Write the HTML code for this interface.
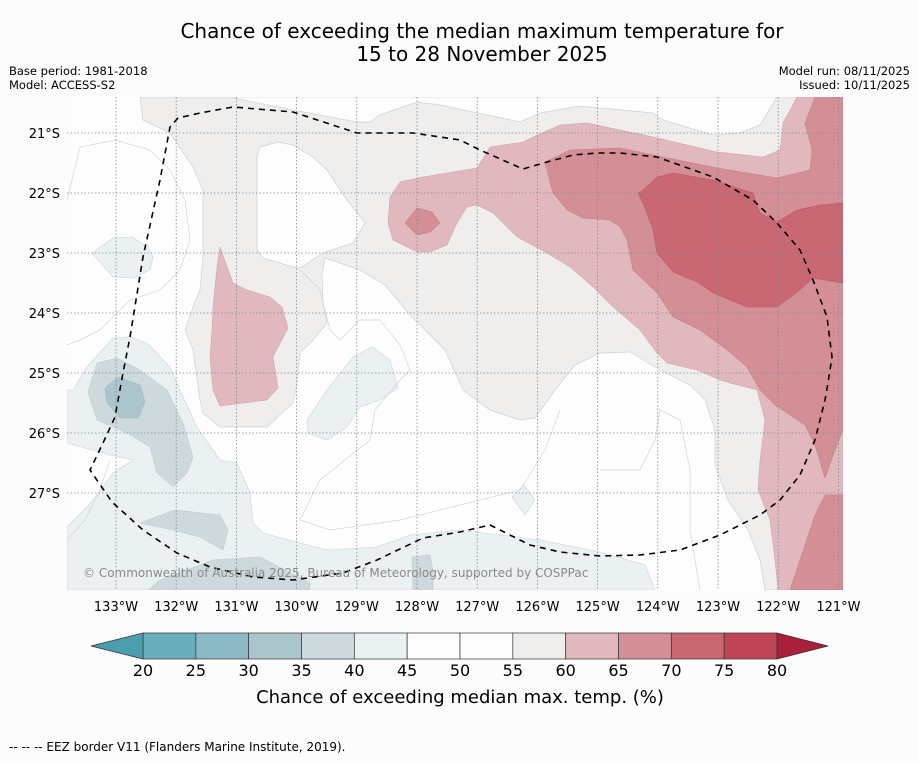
<!DOCTYPE html>
<html><head><meta charset="utf-8"><style>
html,body{margin:0;padding:0;background:#fcfcfc;}
body{width:919px;height:758px;overflow:hidden;font-family:"Liberation Sans","DejaVu Sans",sans-serif;}
svg text{font-family:"DejaVu Sans","Liberation Sans",sans-serif;}
</style></head><body>
<svg id="chart" width="919" height="758" viewBox="0 0 919 758">
<text x="482" y="38" text-anchor="middle" font-size="20" fill="#000">Chance of exceeding the median maximum temperature for</text>
<text x="482" y="61" text-anchor="middle" font-size="20" fill="#000">15 to 28 November 2025</text>
<text x="9" y="75" font-size="11.5">Base period: 1981-2018</text>
<text x="9" y="89" font-size="11.5">Model: ACCESS-S2</text>
<text x="910" y="75" font-size="11.5" text-anchor="end">Model run: 08/11/2025</text>
<text x="910" y="89" font-size="11.5" text-anchor="end">Issued: 10/11/2025</text>
<defs><clipPath id="mapclip"><rect x="67" y="97" width="776" height="493"/></clipPath></defs>
<g clip-path="url(#mapclip)">
<rect x="67" y="97" width="776" height="493" fill="#fdfdfd"/>
<path fill="#efeeec" stroke="#c9d3d6" stroke-width="0.7" d="M140,97 L843,97 L843,590 L765,590 L760,560 L748,530 L728,500 L715,465 L715,430 L705,400 L690,385 L660,370 L630,352 L600,353 L575,365 L555,390 L535,418 L520,420 L490,410 L463,390 L445,350 L410,315 L385,285 L360,270 L325,258 L322,275 L323,303 L327,323 L313,340 L300,353 L297,383 L293,403 L267,427 L220,427 L203,413 L200,400 L193,350 L185,330 L193,307 L200,290 L203,257 L203,190 L193,167 L170,133 L143,120 Z"/>
<path fill="#fdfdfd" stroke="#c9d3d6" stroke-width="0.7" d="M233,97 L233,98 L293,110 L357,122 L370,122 L380,115 L417,102 L440,105 L520,122 L540,113 L580,106 L653,113 L663,120 L713,135 L740,133 L760,125 L777,97 Z"/>
<path fill="#fdfdfd" stroke="#c9d3d6" stroke-width="0.7" d="M260,147 L277,142 L293,145 L313,157 L327,170 L347,200 L365,223 L353,243 L323,253 L300,268 L293,267 L263,258 L257,250 L257,157 Z"/>
<path fill="#e0b8bd" stroke="#c9a0a6" stroke-width="0.5" d="M797,97 L843,97 L843,590 L778,590 L775,560 L770,520 L758,490 L760,460 L765,420 L757,390 L730,383 L720,380 L697,370 L667,363 L657,353 L640,330 L613,307 L593,287 L570,267 L547,253 L517,237 L493,213 L477,205 L467,207 L457,223 L447,245 L430,252 L417,252 L393,240 L388,223 L390,197 L400,182 L423,177 L477,168 L490,147 L523,142 L533,137 L560,125 L587,123 L653,137 L717,152 L763,157 L780,150 L783,123 Z"/>
<path fill="#e0b8bd" stroke="#c9a0a6" stroke-width="0.5" d="M220,247 L233,283 L247,290 L270,297 L282,307 L288,328 L287,330 L273,357 L278,388 L267,400 L220,406 L213,390 L210,357 L212,330 L213,307 L217,267 Z"/>
<path fill="#d48e96" stroke="#bf7a83" stroke-width="0.5" d="M815,97 L843,97 L843,430 L835,450 L825,478 L815,445 L805,425 L790,415 L775,405 L760,390 L747,367 L727,350 L700,330 L673,317 L657,293 L633,270 L627,240 L620,227 L610,220 L583,218 L567,210 L553,193 L545,162 L570,150 L620,148 L663,157 L717,168 L777,178 L810,170 L812,150 L805,123 Z"/>
<path fill="#d48e96" stroke="#bf7a83" stroke-width="0.5" d="M843,495 L825,495 L815,515 L805,545 L795,575 L790,590 L843,590 Z"/>
<path fill="#d48e96" stroke="#bf7a83" stroke-width="0.5" d="M405,223 L417,208 L432,212 L440,223 L430,232 L417,235 Z"/>
<path fill="#c96772" stroke="#b45a66" stroke-width="0.5" d="M643,190 L657,177 L673,173 L713,180 L753,193 L760,213 L777,222 L797,210 L820,205 L843,203 L843,283 L813,278 L800,290 L777,307 L747,307 L713,293 L697,282 L673,272 L657,253 L653,230 L643,203 L638,193 Z"/>
<path fill="#ebf0f2" stroke="#c9d3d6" stroke-width="0.6" d="M67,390 L73,390 L87,367 L113,338 L130,337 L147,343 L170,367 L183,397 L197,427 L220,460 L237,463 L250,493 L253,523 L263,533 L300,543 L327,550 L377,547 L410,535 L460,530 L540,540 L600,552 L645,565 L655,590 L67,590 L67,527 L87,507 L103,487 L113,473 L133,460 L110,455 L67,443 Z"/>
<path fill="#ebf0f2" stroke="#c9d3d6" stroke-width="0.6" d="M92,253 L113,238 L132,237 L148,247 L153,257 L150,270 L133,278 L113,277 Z"/>
<path fill="#ebf0f2" stroke="#c9d3d6" stroke-width="0.6" d="M307,420 L327,390 L353,357 L372,347 L390,360 L398,388 L380,400 L360,407 L347,427 L327,440 L308,433 Z"/>
<path fill="#ebf0f2" stroke="#c9d3d6" stroke-width="0.6" d="M512,497 L524,485 L535,500 L525,515 Z"/>
<path fill="#cdd9dd" stroke="#b8c7cc" stroke-width="0.5" d="M88,392 L97,363 L117,358 L140,370 L167,390 L183,423 L193,457 L187,473 L173,487 L157,473 L150,447 L127,433 L97,420 Z"/>
<path fill="#cdd9dd" stroke="#b8c7cc" stroke-width="0.5" d="M140,523 L175,510 L220,515 L228,530 L223,550 L200,537 L173,530 Z"/>
<path fill="#cdd9dd" stroke="#b8c7cc" stroke-width="0.5" d="M148,590 L160,580 L213,560 L260,557 L310,583 L310,590 Z"/>
<path fill="#cdd9dd" stroke="#b8c7cc" stroke-width="0.5" d="M412,557 L430,555 L433,570 L433,590 L413,590 Z"/>
<path fill="#aac6cc" stroke="#98b6bd" stroke-width="0.5" d="M105,388 L118,377 L140,385 L145,402 L138,418 L120,418 L107,403 Z"/>
<g fill="none" stroke="#cbd6da" stroke-width="0.7">
<path d="M67,200 L80,147 L115,140 L150,150 L170,170 L185,200 L190,240 L180,270 L160,290 L130,300 L100,330 L80,340 L67,345"/>
<path d="M300,270 L320,290 L330,330 L340,340 L360,320 L380,320 L400,345 L410,370 L400,380 L375,410 L370,440 L345,460 L320,480 L300,520 L330,530 L400,520 L460,505 L520,490 L545,450 L560,410"/>
<path d="M67,540 L85,520 L100,490 L110,460"/>
<path d="M600,470 L640,470 L655,440 L660,410 L680,420 L690,470 L690,530 L700,590"/>
</g>
<g stroke="#7d8a93" stroke-width="0.8" stroke-dasharray="1.5,2" id="grid"></g>
<path fill="none" stroke="#000" stroke-width="1.6" stroke-dasharray="6,5" d="M130,337 L143,257 L160,180 L170,127 L178,118 L200,113 L233,107 L293,112 L357,133 L413,133 L460,140 L480,150 L523,169 L547,162 L573,155 L597,153 L620,153 L657,157 L713,177 L753,200 L777,223 L800,250 L813,280 L827,317 L832,357 L828,383 L825,400 L815,440 L800,475 L780,500 L760,515 L720,535 L680,550 L640,555 L600,556 L560,552 L530,545 L490,525 L460,532 L423,538 L377,560 L343,573 L293,580 L253,577 L210,567 L177,553 L143,530 L112,502 L90,470 L103,443 L115,417 L123,373 Z"/>
<text x="83" y="577" font-size="12" fill="#8a8a8a">© Commonwealth of Australia 2025, Bureau of Meteorology, supported by COSPPac</text>
</g>
<g id="axes"></g>
<g id="colorbar"></g>
<text x="460" y="703" text-anchor="middle" font-size="18">Chance of exceeding median max. temp. (%)</text>
<text x="9" y="751" font-size="12">--  --  -- EEZ border V11 (Flanders Marine Institute, 2019).</text>
</svg>
<script>
const lonTicks = [133,132,131,130,129,128,127,126,125,124,123,122,121];
const latTicks = [21,22,23,24,25,26,27];
const levels = [20,25,30,35,40,45,50,55,60,65,70,75,80];
const levelColors = ['#6aaebd','#8bbac6','#aac6cc','#cdd9dd','#ebf0f2','#fdfdfd','#fdfdfd','#efeeec','#e0b8bd','#d48e96','#c96772','#bf4656'];
const extColors = ['#4a9fae','#aa1f3b'];
const NS='http://www.w3.org/2000/svg';
const xLon = l => 116 + (133 - l) * 60.2;
const yLat = l => 133 + (l - 21) * 60;
const xLev = v => 143 + (v - 20) * (634/60);
const grid = document.getElementById('grid');
const axes = document.getElementById('axes');
const cb = document.getElementById('colorbar');
function mk(tag, parent){const e=document.createElementNS(NS,tag);parent.appendChild(e);return e;}
lonTicks.forEach(l=>{
  const ln=mk('line',grid);
  
  
  ln.setAttribute('x1',xLon(l));ln.setAttribute('x2',xLon(l));ln.setAttribute('y1',97);ln.setAttribute('y2',590);
  const t=mk('text',axes);
  
  
  t.setAttribute('x',xLon(l));t.setAttribute('y',611);t.setAttribute('text-anchor','middle');t.setAttribute('font-size','13');
  t.textContent=l+'°W';
});
latTicks.forEach(l=>{
  const ln=mk('line',grid);
  
  
  ln.setAttribute('x1',67);ln.setAttribute('x2',843);ln.setAttribute('y1',yLat(l));ln.setAttribute('y2',yLat(l));
  const t=mk('text',axes);
  
  
  t.setAttribute('x',60);t.setAttribute('y',yLat(l)+5);t.setAttribute('text-anchor','end');t.setAttribute('font-size','13');
  t.textContent=l+'°S';
});
for(let i=0;i<levels.length-1;i++){
  const r=mk('rect',cb);
  
  
  r.setAttribute('x',xLev(levels[i]));r.setAttribute('y',633);r.setAttribute('width',xLev(levels[i+1])-xLev(levels[i]));r.setAttribute('height',26);
  r.setAttribute('fill',levelColors[i]);r.setAttribute('stroke','#333');r.setAttribute('stroke-width','0.7');
}
const l0=xLev(levels[0]), l1=xLev(levels[levels.length-1]);
const ta=mk('polygon',cb);


ta.setAttribute('points',`${l0},633 ${l0},659 ${l0-52},646`);ta.setAttribute('fill',extColors[0]);ta.setAttribute('stroke','#333');ta.setAttribute('stroke-width','0.7');
const tb=mk('polygon',cb);


tb.setAttribute('points',`${l1},633 ${l1},659 ${l1+51},646`);tb.setAttribute('fill',extColors[1]);tb.setAttribute('stroke','#333');tb.setAttribute('stroke-width','0.7');
levels.forEach(v=>{
  const t=mk('text',cb);
  
  
  t.setAttribute('x',xLev(v));t.setAttribute('y',676);t.setAttribute('text-anchor','middle');t.setAttribute('font-size','16');
  t.textContent=v;
});
</script>
</body></html>
